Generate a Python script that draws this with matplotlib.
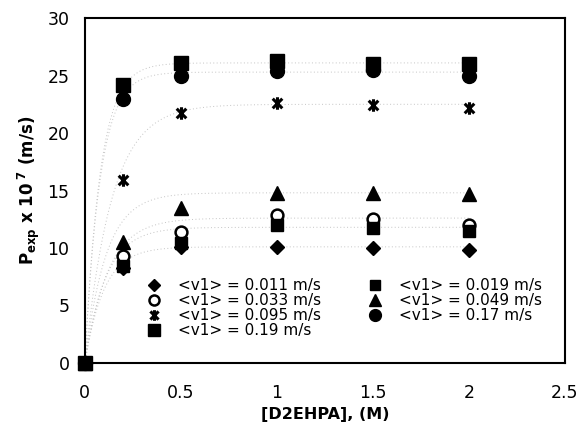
import numpy as np
import matplotlib
matplotlib.use("Agg")
import matplotlib.pyplot as plt
from matplotlib.path import Path

plt.rcParams['font.family'] = ['DejaVu Sans']
plt.rcParams['mathtext.fontset'] = 'dejavusans'

# Data
conc = [0, 0.2, 0.5, 1.0, 1.5, 2.0]
labels = ['<v1> = 0.011 m/s', '<v1> = 0.033 m/s', '<v1> = 0.095 m/s', '<v1> = 0.19 m/s',
          '<v1> = 0.019 m/s', '<v1> = 0.049 m/s', '<v1> = 0.17 m/s']
p_011 = [0, 8.3, 10.1, 10.1, 10.0, 9.8]
p_033 = [0, 9.3, 11.4, 12.9, 12.5, 12.0]
p_095 = [0, 15.9, 21.7, 22.6, 22.4, 22.2]
p_019_top = [0, 24.2, 26.1, 26.3, 26.0, 26.0]
p_019 = [0, 8.4, 10.4, 12.0, 11.7, 11.5]
p_049 = [0, 10.5, 13.5, 14.8, 14.8, 14.7]
p_017 = [0, 23.0, 25.0, 25.4, 25.5, 25.0]

# fitted model parameters (saturation curves, faint dotted)
fit_pmax = [10.1, 12.6, 22.5, 26.1, 11.8, 14.8, 25.3]
fit_k = [0.10, 0.12, 0.14, 0.08, 0.11, 0.11, 0.08]

ast = Path([(-1, -1), (1, 1), (-1, 1), (1, -1), (0, -1.3), (0, 1.3)],
           [Path.MOVETO, Path.LINETO, Path.MOVETO, Path.LINETO, Path.MOVETO, Path.LINETO])

series = [
    (p_011, dict(marker='D', color='black', markersize=7.5, mfc='black'), 3),
    (p_033, dict(marker='o', color='black', markersize=8.5, mfc='white', mew=1.8), 3),
    (p_095, dict(marker=ast, color='black', markersize=9, mfc='none', mew=2.2), 3),
    (p_019_top, dict(marker='s', color='black', markersize=9.5, mfc='black'), 5),
    (p_019, dict(marker='s', color='black', markersize=9, mfc='black'), 3),
    (p_049, dict(marker='^', color='black', markersize=9.5, mfc='black'), 3),
    (p_017, dict(marker='o', color='black', markersize=10, mfc='black'), 4),
]

fig = plt.figure(figsize=(5.81, 4.41), dpi=100)
ax = fig.add_axes([0.146, 0.177, 0.826, 0.782])

xs = np.linspace(0, 2, 300)
for pm, k in zip(fit_pmax, fit_k):
    ax.plot(xs, pm * (1 - np.exp(-xs / k)), linestyle=(0, (1, 2.5)), color='#c4c4c4',
            linewidth=0.7, zorder=1)

handles = []
for (vals, st, z), lab in zip(series, labels):
    h, = ax.plot(conc, vals, linestyle='none', label=lab, zorder=z, clip_on=False, **st)
    handles.append(h)

ax.set_xlim(0, 2.5)
ax.set_ylim(0, 30)
ax.set_xticks([0, 0.5, 1, 1.5, 2, 2.5])
ax.set_xticklabels(['0', '0.5', '1', '1.5', '2', '2.5'])
ax.set_yticks([0, 5, 10, 15, 20, 25, 30])
ax.tick_params(length=0, labelsize=12.5)
ax.tick_params(axis='y', pad=11)
ax.tick_params(axis='x', pad=15)
for s in ax.spines.values():
    s.set_linewidth(1.5)
    s.set_color('black')

ax.set_xlabel('[D2EHPA], (M)', fontsize=11.5, fontweight='bold', labelpad=4)
ax.set_ylabel(r'P$_{\mathbf{exp}}$ x 10$^{\ \mathbf{7}}$ (m/s)', fontsize=12, fontweight='bold', labelpad=4)

ax.legend(handles=handles, ncol=2, loc='upper left', bbox_to_anchor=(0.128, 0.245),
          frameon=False, fontsize=11, handlelength=1.0, handletextpad=1.1,
          columnspacing=3.0, labelspacing=0.0, borderpad=0, borderaxespad=0,
          markerscale=0.85)

fig.savefig('out.png', dpi=100)
